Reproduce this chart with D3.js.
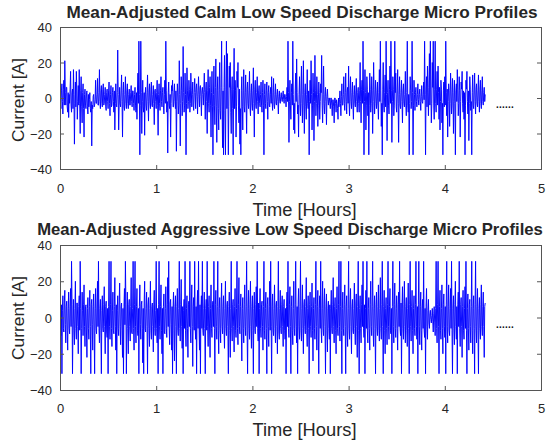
<!DOCTYPE html>
<html><head><meta charset="utf-8">
<script src="https://cdn.jsdelivr.net/npm/d3@7"></script>
<style>body{margin:0;background:#fff}svg{display:block}</style>
</head><body>
<svg id="c" width="548" height="443"></svg>
<script>
// ---- data (one sample every 0.005 h) ----
const xTicks = [0, 1, 2, 3, 4, 5];
const yTicks = [-40, -20, 0, 20, 40];
const sampleStepHours = 0.005;
const titles = ["Mean-Adjusted Calm Low Speed Discharge Micro Profiles",
                "Mean-Adjusted Aggressive Low Speed Discharge Micro Profiles"];
const xLabel = "Time [Hours]";
const yLabel = "Current [A]";
const ellipsis = "......";

const calm = [
 2,-3,-6,4,8,-2,-9,5,10,-4,21,3,-4,6,6,-5,-8,3,-11,2,
 -3,5,15,-4,-8,3,5,-6,16,2,-26,-3,9,-5,15,4,-12,-2,7,-4,
 16,-3,-20,4,12,-5,-14,3,8,-6,-22,2,5,-4,-6,3,4,-5,-9,2,
 -5,-1,3,-6,-8,-2,-27,-4,-6,1,2,-5,-4,-1,10,-3,-3,2,11,-4,
 -4,3,16,-2,-6,4,7,-3,-5,5,8,-4,-3,2,6,-5,-7,3,5,-2,
 -6,4,9,-3,-10,2,7,-5,-4,3,6,-2,-8,4,-18,-3,8,-4,-5,3,
 27,2,-18,-4,6,-3,-5,4,13,-2,-22,3,9,-5,-7,2,12,-3,-6,4,
 8,-3,-6,2,5,-4,-4,3,7,-2,-5,4,4,-3,-7,2,6,-4,-8,3,
 -12,4,14,-3,32,2,-32,-4,32,3,-20,-2,10,-5,-8,3,-21,2,6,-4,
 -7,3,13,-2,-13,4,8,-3,-6,5,9,-4,-5,2,7,-3,-15,4,5,-2,
 -6,3,10,-4,-21,2,8,-3,-7,4,12,-2,-5,3,6,-4,-9,2,10,-3,
 32,4,-8,-2,-31,3,9,-4,-6,2,-22,-3,7,4,10,-5,-5,3,8,-2,
 -6,4,-30,-2,8,3,-9,-4,21,2,-27,-3,12,4,-10,-2,29,3,-8,-4,
 14,2,-32,-3,17,4,-6,-2,10,5,-8,-3,14,4,-5,2,9,-4,-7,3,
 11,3,-6,5,8,1,-9,4,12,2,-5,6,7,1,-10,4,6,2,-4,5,
 14,3,-12,5,9,-2,-20,4,16,-3,-8,6,12,-4,-22,3,15,-5,-32,2,
 18,-4,-15,6,22,-5,-25,4,12,-6,-18,5,20,-7,-12,6,32,-5,-28,4,
 -32,6,24,-7,-32,5,32,-6,25,4,-32,-5,18,6,20,-8,-20,5,12,-6,
 -32,5,28,-6,10,4,-22,-5,15,6,20,-4,-14,5,-26,-6,-32,4,12,-5,
 -18,4,16,-5,-8,3,13,-4,-20,5,9,-3,-6,4,15,-5,-10,3,8,-4,
 -7,4,17,-3,-22,5,10,-4,-6,3,12,-2,-9,4,7,-3,-5,2,9,-4,
 -8,3,10,-4,-32,2,8,-3,-6,4,9,-2,-12,3,7,-4,-5,2,6,-3,
 12,-2,-7,3,11,-4,-6,2,8,-3,-4,2,5,-2,-9,1,4,-2,-3,1,
 3,-1,-2,1,4,-1,-3,2,2,-1,-5,1,6,-2,32,3,-25,-2,10,-4,
 -12,3,8,-4,32,2,-18,-3,-20,4,14,-2,22,3,-9,-4,-22,2,12,-3,
 -10,4,18,-3,-14,2,21,-4,-20,3,8,-5,-12,2,16,-3,-6,4,-32,-2,
 10,-3,21,2,-18,-4,14,3,-24,-2,24,4,-10,-3,12,2,-16,-4,9,3,
 -12,-2,8,3,24,-4,-14,2,18,-3,-9,1,6,-2,-15,1,5,-1,-4,0,
 0,-3,-6,0,0,-4,-10,-1,-1,-5,-14,0,0,-3,-8,-1,-3,-6,-12,0,
 -5,-1,4,-3,-10,1,8,-4,-4,2,12,-3,-7,3,14,-2,-9,4,6,-3,
 18,-3,-10,4,12,-2,-6,3,9,-4,-12,2,7,-3,-5,4,11,-2,-8,3,
 6,-3,-8,4,20,-2,-14,5,10,-3,32,4,-32,-2,16,3,-18,-4,12,5,
 -10,3,-32,-4,14,5,-8,-3,12,4,-20,-2,20,5,-9,-3,10,4,-6,-2,
 9,-4,-12,3,16,-2,32,4,-16,-3,-32,5,20,-4,-8,3,13,-5,32,2,
 -24,3,10,-4,-9,5,18,-3,32,4,-25,-2,12,5,-10,-4,32,3,14,-5,
 -8,4,16,-3,-25,2,12,-4,-6,3,10,-2,-14,4,8,-3,-5,2,15,-4,
 -10,3,32,-4,-8,2,-32,-3,12,4,-6,-2,32,3,-32,-4,10,2,-7,3,
 6,-2,-5,2,8,-1,-4,2,5,-2,-7,1,7,-2,-3,2,9,-1,32,2,
 -32,4,12,-5,18,3,-10,6,25,-4,32,5,-14,-3,20,6,32,-4,-12,5,
 32,-3,-8,5,15,-4,18,3,-12,6,-18,-2,10,5,-14,-3,-32,4,9,-5,
 12,-4,32,3,-10,5,-22,-2,8,4,-16,-3,14,5,-9,-4,11,3,-20,-2,
 10,-3,-32,4,8,-2,16,5,-10,-3,12,4,-22,-2,9,5,15,-3,-8,4,
 -12,3,-32,-4,10,5,15,-2,-9,4,-24,-3,12,5,-7,-2,-32,3,13,-4,
 -6,4,14,-2,-9,5,8,-3,-5,4,13,-2,-8,5,10,-3,-6,4,12,-2,
 -4,3,6,-2,2
];

const aggressive = [
 18,-5,-10,7,-31,4,12,-6,-8,8,15,-4,-14,6,9,-7,-18,5,14,-6,
 -9,6,16,-5,31,7,-31,-4,10,-7,-15,5,20,-6,-12,8,8,-5,-20,6,
 12,-7,31,5,-31,-6,14,4,-10,7,18,-5,-16,6,7,-8,-22,5,11,-6,
 -12,6,15,-5,-31,7,10,-4,-18,6,13,-7,-31,5,16,-6,-9,8,20,-5,
 31,-6,-14,5,10,-7,-31,4,12,-6,-8,7,17,-5,-20,6,9,-8,-11,5,
 -31,6,31,-5,-12,7,31,-6,-16,4,14,-7,-9,6,22,-5,-18,7,-31,4,
 12,-6,-10,8,19,-5,-15,6,8,-7,-22,5,-31,6,16,-4,31,7,-31,-5,
 14,-6,-20,7,10,-5,-13,6,22,-8,-9,5,31,-6,-18,7,31,-5,-14,6,
 16,-7,-10,5,-31,6,18,-4,-12,7,9,-6,-25,5,-31,8,20,-6,-8,5,
 14,-5,-31,7,11,-6,-16,5,20,-7,-12,6,8,-5,-19,7,15,-6,-10,4,
 31,-6,-14,5,-31,7,31,-5,-12,6,18,-7,-20,5,-31,6,13,-8,-9,5,
 17,-6,-11,7,22,-5,31,-6,-15,8,10,-4,-18,6,-31,5,14,-7,-24,6,
 12,-5,-31,6,16,-7,-10,5,31,-6,-13,7,21,-5,-17,6,-31,4,10,-6,
 31,-7,-16,5,12,-6,-22,7,9,-5,31,-6,-14,8,18,-5,-27,6,11,-7,
 31,-5,-12,6,-31,7,15,-6,31,-4,-18,7,-31,5,12,-6,31,-7,-10,5,
 14,-6,-31,5,10,-7,31,-5,-16,6,12,-8,-22,5,18,-6,-11,7,9,-5,
 31,-6,-31,7,15,-5,-12,6,31,-7,-20,5,11,-6,-14,8,19,-5,-9,6,
 12,-7,-17,5,20,-6,-10,7,9,-5,-31,6,14,-7,-22,5,31,-6,-13,7,
 10,-5,-19,6,16,-7,-11,5,31,-6,-15,7,22,-5,-9,6,13,-8,-24,5,
 11,-6,-14,7,18,-5,-10,6,31,-7,-31,5,15,-6,-12,7,20,-5,-17,6,
 12,-7,-31,5,14,-6,-9,7,17,-5,31,-6,-13,8,-31,5,16,-6,-11,7,
 9,-5,-18,6,31,-7,-12,5,14,-6,-31,7,11,-5,-16,6,20,-7,31,-5,
 -31,6,13,-7,-10,5,18,-6,-14,7,9,-5,-20,6,31,-8,-12,5,15,-6,
 -9,7,12,-5,-16,6,10,-7,-12,5,-31,6,14,-5,31,-6,-11,7,17,-5,
 -31,6,12,-7,-15,5,20,-6,-10,7,31,-5,-14,6,-31,7,16,-5,-12,6,
 31,-7,-13,5,18,-6,-20,7,10,-5,-9,6,22,-7,-16,5,12,-6,-31,7,
 14,-5,-11,6,19,-7,-24,5,11,-6,-12,7,31,-5,-18,6,15,-8,-31,5,
 12,-6,31,-7,-14,5,20,-6,-10,7,16,-5,-31,6,13,-7,-19,5,9,-6,
 -12,7,-31,5,15,-6,-9,7,22,-5,-14,6,11,-7,-20,5,17,-6,-10,7,
 31,-5,-13,6,31,-7,-31,5,14,-6,-10,7,18,-5,-31,6,12,-7,-16,5,
 31,-6,-12,7,16,-5,-20,6,10,-7,-9,5,19,-6,-15,8,13,-5,-22,6,
 31,-7,-31,5,12,-6,-14,7,18,-5,31,-6,-11,7,-31,5,15,-6,31,-7,
 -14,5,11,-6,-18,7,20,-5,-10,6,31,-7,-16,5,12,-6,-31,7,14,-5,
 -10,6,18,-7,-13,5,22,-6,-12,7,31,-5,-31,6,15,-7,-20,5,11,-6,
 -15,7,31,-5,-12,6,16,-7,-9,5,-31,6,31,-5,-14,7,19,-6,-11,5,
 12,-6,-18,7,14,-5,31,-6,-10,8,-31,5,17,-6,-12,7,20,-5,-14,6,
 11,-7,-16,5,19,-6,-31,7,31,-5,-13,6,15,-7,-20,5,12,-6,-10,7,
 31,-5,-12,6,-31,7,31,-5,-15,6,14,-7,-18,5,10,-6,31,-7,-11,5,
 -31,6,16,-5,-12,4,10,-3,-6,2,4,-1,-3,1,5,-2,-8,2,6,-3,
 -10,5,31,-6,-14,7,31,-5,-31,6,15,-7,-12,5,18,-6,-20,7,13,-5,
 -11,6,-31,7,31,-5,-14,6,18,-7,-10,5,16,-6,31,-7,-31,5,12,-6,
 -15,7,20,-5,-12,6,-31,7,14,-5,31,-6,-16,7,11,-5,-22,6,15,-7,
 -12,5,17,-6,31,-7,-31,5,13,-6,-18,7,10,-5,-14,6,31,-7,-20,5,
 12,-6,-31,7,31,-5,-14,6,16,-7,-31,5,11,-6,-12,7,18,-5,-10,6,
 14,-5,-22,6,8
];

// ---- layout ----
const W = 548, H = 443;
const FONT = "'Liberation Sans', Arial, sans-serif";
const TXT = "#262626";
const panels = [
  {series: calm, title: titles[0], top: 27, bottom: 169, titleX: 302, titleY: 12, titleW: 471,
   tickLabelY: 188, xLabelY: 210, yLabelY: 100, dotsY: 108},
  {series: aggressive, title: titles[1], top: 245, bottom: 390, titleX: 290, titleY: 229, titleW: 506,
   tickLabelY: 408, xLabelY: 430, yLabelY: 318, dotsY: 328}
];
const left = 60, right = 541;

const svg = d3.select("#c");
svg.append("rect").attr("width", W).attr("height", H).attr("fill", "#fff");

function fitText(sel, target) {
  const w = sel.node().getComputedTextLength();
  const fs = parseFloat(sel.attr("font-size"));
  sel.attr("font-size", (fs * target / w).toFixed(2));
}

panels.forEach((p, k) => {
  const x = d3.scaleLinear().domain([0, 5]).range([left, right]);
  const y = d3.scaleLinear().domain([-40, 40]).range([p.bottom, p.top]);
  const g = svg.append("g");

  const clipId = "clip" + k;
  g.append("clipPath").attr("id", clipId).append("rect")
    .attr("x", left).attr("y", p.top).attr("width", right - left).attr("height", p.bottom - p.top);

  const line = d3.line().x((d, i) => x(i * sampleStepHours)).y(d => y(d));
  g.append("path").datum(p.series)
    .attr("clip-path", `url(#${clipId})`)
    .attr("d", line).attr("fill", "none")
    .attr("stroke", "#0000ff").attr("stroke-width", 0.95);

  // axes (MATLAB-like, inward ticks, full box)
  const axB = g.append("g").attr("transform", `translate(0,${p.bottom})`)
    .call(d3.axisBottom(x).tickValues(xTicks).tickSize(-4).tickPadding(0).tickFormat(d3.format("d")));
  const axT = g.append("g").attr("transform", `translate(0,${p.top})`)
    .call(d3.axisTop(x).tickValues(xTicks).tickSize(-4).tickFormat(""));
  const axL = g.append("g").attr("transform", `translate(${left},0)`)
    .call(d3.axisLeft(y).tickValues(yTicks).tickSize(-4).tickPadding(8).tickFormat(d3.format("d")));
  const axR = g.append("g").attr("transform", `translate(${right},0)`)
    .call(d3.axisRight(y).tickValues(yTicks).tickSize(-4).tickFormat(""));
  [axB, axT, axL, axR].forEach(a => {
    a.select(".domain").attr("stroke", "#555").attr("stroke-width", 1);
    a.selectAll(".tick line").attr("stroke", "#555");
    a.selectAll("text").attr("font-family", FONT).attr("font-size", 13).attr("fill", TXT);
  });
  axB.selectAll(".tick text").attr("y", p.tickLabelY - p.bottom).attr("dy", "0.35em");
  axL.selectAll(".tick text").attr("dy", "0.35em");

  // title
  const t = g.append("text").text(p.title)
    .attr("x", p.titleX).attr("y", p.titleY).attr("dy", "0.35em")
    .attr("text-anchor", "middle").attr("font-family", FONT).attr("font-weight", "bold")
    .attr("font-size", 14).attr("fill", TXT);
  fitText(t, p.titleW);

  // axis labels
  const xl = g.append("text").text(xLabel)
    .attr("x", (left + right) / 2 + 4).attr("y", p.xLabelY).attr("dy", "0.35em")
    .attr("text-anchor", "middle").attr("font-family", FONT).attr("font-size", 16).attr("fill", TXT);
  fitText(xl, 104);
  const yl = g.append("text").text(yLabel)
    .attr("transform", `translate(18,${p.yLabelY}) rotate(-90)`).attr("dy", "0.35em")
    .attr("text-anchor", "middle").attr("font-family", FONT).attr("font-size", 16).attr("fill", TXT);
  fitText(yl, 84);

  // continuation dots
  g.append("text").text(ellipsis)
    .attr("x", 505).attr("y", p.dotsY)
    .attr("text-anchor", "middle").attr("font-family", FONT).attr("font-weight", "bold")
    .attr("font-size", 10).attr("letter-spacing", 0.2).attr("fill", "#111");
});
</script>
</body></html>
